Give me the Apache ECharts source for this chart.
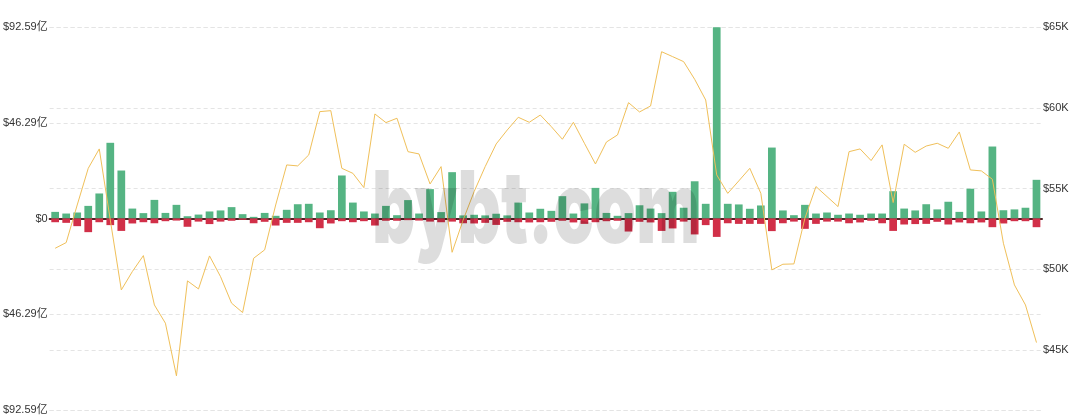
<!DOCTYPE html>
<html><head><meta charset="utf-8">
<script src="https://cdn.jsdelivr.net/npm/echarts@6/dist/echarts.min.js"></script>
<style>html,body{margin:0;padding:0;background:#fff}#c{width:1080px;height:416px}</style>
</head><body><div id="c"></div>
<script>
// 90 daily periods
const categories = [];
for (let i = 1; i <= 90; i++) categories.push('D' + i);

// inflow (亿 USD), positive green bars
const inflow = [3.2,2.4,2.9,6.1,12.1,36.6,23.2,4.8,2.6,9.0,
 2.7,6.6,1.1,1.9,3.4,3.9,5.5,2.1,0.8,2.7,
 1.3,4.2,6.9,7.1,2.9,4.0,20.8,7.7,3.4,2.4,
 6.1,1.6,8.9,2.4,14.2,3.1,22.4,1.5,1.8,1.5,
 2.3,1.5,7.7,2.9,4.7,3.7,10.8,2.4,7.3,14.8,
 2.7,1.3,2.6,6.4,4.8,2.6,12.9,5.2,18.0,7.1,
 92.5,7.1,6.8,4.7,6.3,34.3,3.9,1.6,6.6,2.4,
 2.9,1.8,2.4,1.8,2.4,2.4,13.2,4.8,3.9,6.9,
 4.4,8.1,3.2,14.4,3.4,34.8,4.0,4.4,5.2,18.7];

// outflow (亿 USD), negative red bars
const outflow = [-1.8,-2.1,-3.7,-6.6,-1.8,-3.2,-6.0,-2.4,-1.8,-2.3,
 -1.3,-1.0,-4.0,-1.5,-2.7,-1.5,-1.1,-0.6,-2.3,-1.6,
 -3.4,-2.1,-2.1,-1.8,-4.7,-2.4,-1.3,-1.8,-1.3,-3.4,
 -1.1,-1.1,-0.8,-1.0,-1.5,-1.8,-1.5,-2.3,-2.4,-2.1,
 -3.1,-1.6,-1.8,-1.9,-1.8,-1.6,-1.1,-1.9,-2.6,-1.8,
 -1.3,-1.1,-6.3,-1.6,-1.9,-6.0,-4.8,-1.5,-7.7,-3.2,
 -8.9,-2.3,-2.6,-2.6,-2.6,-6.1,-2.3,-1.5,-5.0,-2.6,
 -1.5,-1.5,-2.3,-1.9,-1.1,-2.3,-6.0,-2.9,-2.7,-2.6,
 -1.6,-2.9,-1.9,-2.3,-1.9,-4.2,-2.4,-1.3,-1.3,-4.2];

// BTC price (USD)
const price = [51300,51650,53980,56250,57450,53050,48720,49855,50845,47790,
 46660,43400,49280,48780,50825,49540,47900,47320,50680,51200,
 53980,56460,56400,57080,59760,59820,56250,55940,55055,59615,
 59080,59350,57280,57140,55280,56355,51050,53050,54810,56355,
 57760,58620,59410,59100,59550,58830,58050,59100,57800,56520,
 57880,58315,60315,59740,60110,63470,63165,62855,61760,60480,
 55840,54700,55470,56250,54700,49960,50310,50330,53160,55120,
 54500,53880,57280,57450,56730,57700,54130,57740,57240,57630,
 57800,57490,58500,56150,56090,55570,51610,49030,47790,45460];

const leftTickLabels = ['$92.59亿','$46.29亿','$0','$46.29亿','$92.59亿'];
const leftMax = 92.59;
const priceMin = 41285, priceMax = 65000;

// watermark font sizing
const wmFont = '900 100px Inter, "Liberation Sans", sans-serif';
const mctx = document.createElement('canvas').getContext('2d');
mctx.font = wmFont;
const wmScaleX = 328 / mctx.measureText('bybt.com').width;

const chart = echarts.init(document.getElementById('c'));
const labelFont = {fontSize: 11, color: '#333', fontFamily: '"Liberation Sans", "Noto Sans CJK SC", sans-serif'};
chart.setOption({
  animation: false,
  backgroundColor: '#fff',
  grid: {left: 49, right: 38, top: 27, bottom: 6},
  xAxis: {
    type: 'category', data: categories, boundaryGap: true,
    axisLine: {onZero: true, lineStyle: {color: '#4d2626', width: 2}},
    axisTick: {show: false}, axisLabel: {show: false}, splitLine: {show: false}
  },
  yAxis: [{
    type: 'value', min: -leftMax, max: leftMax, interval: leftMax / 2,
    axisLine: {show: false}, axisTick: {show: false},
    axisLabel: Object.assign({margin: 2, formatter: (v, i) => leftTickLabels[i]}, labelFont),
    splitLine: {lineStyle: {color: '#e4e4e4', type: [4, 3]}}
  }, {
    type: 'value', min: priceMin, max: priceMax, splitNumber: 5, position: 'right',
    axisLine: {show: false}, axisTick: {show: false},
    axisLabel: Object.assign({margin: 1, showMinLabel: false, formatter: v => '$' + Math.round(v / 1000) + 'K'}, labelFont),
    splitLine: {lineStyle: {color: '#e4e4e4', type: [4, 3]}}
  }],
  graphic: [{
    type: 'text', x: 372, y: 163, scaleX: wmScaleX, z: 100, silent: true,
    style: {text: 'bybt.com', font: wmFont, fill: 'rgba(0,0,0,0.135)', textAlign: 'left', textVerticalAlign: 'top'}
  }],
  series: [{
    type: 'bar', data: inflow, barWidth: '70%', yAxisIndex: 0,
    itemStyle: {color: '#55b483'}
  }, {
    type: 'bar', data: outflow, barWidth: '70%', barGap: '-100%', yAxisIndex: 0,
    itemStyle: {color: '#d12f48'}
  }, {
    type: 'line', data: price, yAxisIndex: 1, symbol: 'none', z: 5,
    lineStyle: {color: '#f0c05a', width: 1}
  }]
});
</script></body></html>
